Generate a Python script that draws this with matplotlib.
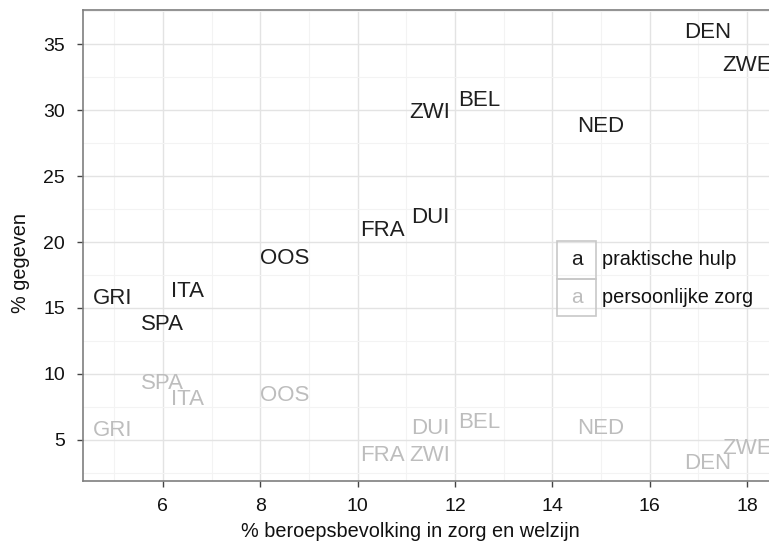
import matplotlib
matplotlib.use("Agg")
import matplotlib.pyplot as plt
from matplotlib.patches import Rectangle
from matplotlib.ticker import MultipleLocator
from matplotlib.transforms import ScaledTranslation

plt.rcParams['font.family'] = ['Liberation Sans', 'DejaVu Sans']

countries = ["GRI", "SPA", "ITA", "OOS", "FRA", "DUI", "ZWI", "BEL", "NED", "DEN", "ZWE"]
zorg_werk = [4.97, 6.0, 6.5, 8.5, 10.5, 11.5, 11.48, 12.49, 15.0, 17.2, 18.0]
praktische_hulp = [15.9, 13.9, 16.4, 18.9, 21.0, 22.0, 30.0, 30.9, 28.9, 36.0, 33.5]
persoonlijke_zorg = [5.9, 9.4, 8.2, 8.5, 4.0, 6.0, 4.0, 6.5, 6.0, 3.4, 4.5]

series_names = ["praktische hulp", "persoonlijke zorg"]
series_colors = ["#1f1f1f", "#bdbdbd"]
x_ticks = [6, 8, 10, 12, 14, 16, 18]
y_ticks = [5, 10, 15, 20, 25, 30, 35]

fig = plt.figure(figsize=(7.69, 5.42), dpi=100)
ax = fig.add_axes([83/769, 61/542, 1 - 83/769, 471/542])
ax.set_xlim(4.36, 18.45)
ax.set_ylim(1.89, 37.58)

ax.xaxis.set_minor_locator(MultipleLocator(1))
ax.yaxis.set_minor_locator(MultipleLocator(2.5))
ax.set_xticks(x_ticks)
ax.set_yticks(y_ticks)
ax.grid(which='major', color='#e3e3e3', linewidth=1.0)
ax.grid(which='minor', color='#f3f3f3', linewidth=0.8)
ax.set_axisbelow(True)
ax.tick_params(which='minor', length=0)
ax.tick_params(which='major', length=4, width=1, color='#444444', labelsize=14,
               labelcolor='#111111')
ax.tick_params(axis='x', pad=8)
ax.tick_params(axis='y', pad=9)
for s in ['left', 'bottom', 'top']:
    ax.spines[s].set_color('#7f7f7f')
    ax.spines[s].set_linewidth(1.2)
ax.spines['right'].set_visible(False)

shift = ax.transData + ScaledTranslation(0, -2 / 100, fig.dpi_scale_trans)
for yvals, col in zip([praktische_hulp, persoonlijke_zorg], series_colors):
    for c, x, y in zip(countries, zorg_werk, yvals):
        ax.text(x, y, c, color=col, fontsize=16, ha='center', va='center',
                clip_on=True, transform=shift)

ax.set_xlabel("% beroepsbevolking in zorg en welzijn", fontsize=14.3, color='#111111')
ax.set_ylabel("% gegeven", fontsize=14.3, color='#111111')
ax.xaxis.set_label_coords((410 - 83) / 686, -0.087)
ax.yaxis.set_label_coords(-0.077, (481 - 263) / 471)

# legend drawn inside the panel
W, H = 686, 471
kx0 = (557 - 83) / W
kw = 39 / W
kh = 37.5 / H
ktop = (481 - 241) / H
for i, (name, col) in enumerate(zip(series_names, series_colors)):
    y0 = ktop - (i + 1) * kh
    ax.add_patch(Rectangle((kx0, y0), kw, kh, transform=ax.transAxes, fill=False,
                           edgecolor='#c8c8c8', linewidth=1.2, clip_on=False))
    ax.text(kx0 + kw / 2, y0 + kh / 2, "a", transform=ax.transAxes, color=col,
            fontsize=15, ha='center', va='center')
    ax.text(kx0 + kw + 6 / W, y0 + kh / 2, name, transform=ax.transAxes,
            color='#111111', fontsize=14.3, ha='left', va='center')

fig.savefig("out.png", dpi=100)
